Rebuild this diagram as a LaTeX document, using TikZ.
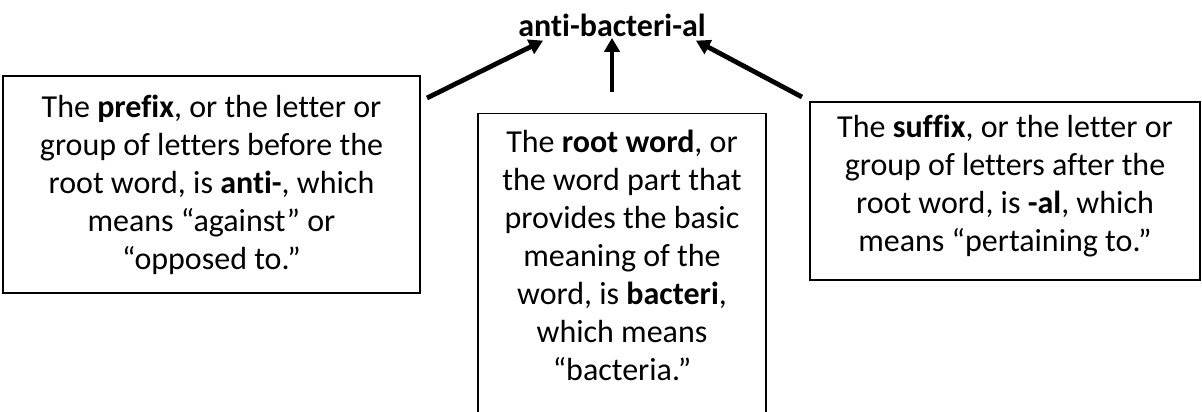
\documentclass[tikz,border=0pt]{standalone}
\usepackage{fontspec}
\setmainfont{Carlito}[Ligatures=NoCommon]
\usetikzlibrary{arrows.meta,positioning}

\tikzset{
  wordbox/.style={draw=black,line width=1pt,align=center,inner sep=0pt,
                  font=\fontsize{24}{28.5}\selectfont},
  partarrow/.style={line width=3.6pt,-{Triangle[length=10.5pt,width=11.5pt]}}
}

\begin{document}
\begin{tikzpicture}[x=0.75pt,y=-0.75pt]
  \useasboundingbox (0,0) rectangle (1202,411);

  % Mot décomposé
  \node[font=\fontsize{24}{28}\selectfont\bfseries,inner sep=3pt] (title)
       at (612,25) {anti-bacteri-al};

  % Préfixe
  \node[wordbox,minimum width=312.75pt,minimum height=162.75pt] (prefix)
       at (211.5,184.5) {The \textbf{prefix}, or the letter or\\
       group of letters before the\\ root word, is \textbf{anti-}, which\\
       means “against” or\\ “opposed to.”};

  % Racine
  \node[wordbox,anchor=north,minimum width=216pt,inner ysep=12pt] (root)
       at (622,113) {The \textbf{root word}, or\\ the word part that\\
       provides the basic\\ meaning of the\\ word, is \textbf{bacteri},\\
       which means\\ “bacteria.”\rule[-30pt]{0pt}{30pt}};

  % Suffixe
  \node[wordbox,minimum width=292.5pt,minimum height=133.5pt] (suffix)
       at (1005,191) {The \textbf{suffix}, or the letter or\\
       group of letters after the\\ root word, is \textbf{-al}, which\\
       means “pertaining to.”\rule[-11pt]{0pt}{11pt}};

  % Flèches
  \coordinate (pfxtail) at (427,98);
  \coordinate (sfxtail) at (802,97);
  \coordinate (roottail) at ([yshift=15.75pt]root.north -| title.south);
  \draw[partarrow] (pfxtail) -- ([xshift=21.75pt]title.south west);
  \draw[partarrow] (roottail) -- ([yshift=2pt]title.south);
  \draw[partarrow] (sfxtail) -- ([xshift=-10.5pt]title.south east);

\end{tikzpicture}
\end{document}
